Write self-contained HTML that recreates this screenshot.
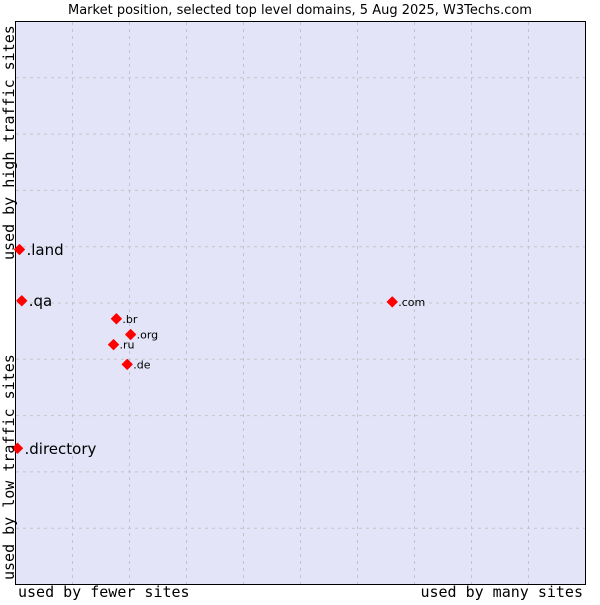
<!DOCTYPE html>
<html><head><meta charset="utf-8"><style>
body{margin:0;background:#fff;width:600px;height:600px;overflow:hidden}
svg text{font-family:"DejaVu Sans","Liberation Sans",sans-serif}
.mono{font-family:"DejaVu Sans Mono","Liberation Mono",monospace}
</style></head><body>
<svg id="chart" width="600" height="600">
<text x="300" y="14" text-anchor="middle" font-size="13">Market position, selected top level domains, 5 Aug 2025, W3Techs.com</text>
<rect x="15.5" y="21.5" width="570" height="563" fill="#e3e4f8" stroke="#000" stroke-width="1"/>
<g id="grid"></g>
<g id="points"></g>
<text class="mono" x="18" y="597" font-size="15">used by fewer sites</text>
<text class="mono" x="583" y="597" font-size="15" text-anchor="end">used by many sites</text>
<text class="mono" transform="translate(14,580) rotate(-90)" font-size="15">used by low traffic sites</text>
<text class="mono" transform="translate(14,260) rotate(-90)" font-size="15">used by high traffic sites</text>
</svg>
<script>
const domains=[".land",".qa",".directory",".com",".br",".org",".ru",".de"];
const xValues=[0.7,1.1,0.35,66.1,17.7,20.2,17.2,19.6];
const yValues=[59.5,50.4,24.2,50.2,47.2,44.4,42.6,39.1];
const bigLabel=[true,true,true,false,false,false,false,false];
const X0=15.5,W=570,Y0=584.5,H=563;
const sx=v=>X0+v/100*W, sy=v=>Y0-v/100*H;
const NS="http://www.w3.org/2000/svg";
const grid=document.getElementById('grid');
for(let i=1;i<10;i++){
 const v=document.createElementNS(NS,'line');
 v.setAttribute('x1',sx(i*10));v.setAttribute('x2',sx(i*10));v.setAttribute('y1',22);v.setAttribute('y2',584);
 v.setAttribute('stroke','#c4c4c8');v.setAttribute('stroke-dasharray','3,4');
 
 
 grid.appendChild(v);
 const h=document.createElementNS(NS,'line');
 h.setAttribute('y1',sy(i*10));h.setAttribute('y2',sy(i*10));h.setAttribute('x1',16);h.setAttribute('x2',585);
 h.setAttribute('stroke','#c4c4c8');h.setAttribute('stroke-dasharray','3,4');
 
 
 grid.appendChild(h);
}
const pts=document.getElementById('points');
domains.forEach((d,i)=>{
 const x=sx(xValues[i]),y=sy(yValues[i]);
 const m=document.createElementNS(NS,'polygon');
 m.setAttribute('points',`${x},${y-5} ${x+5},${y} ${x},${y+5} ${x-5},${y}`);
 m.setAttribute('fill','#f00');
 m.setAttribute('stroke','#f00');
 m.setAttribute('stroke-width','1');
 m.setAttribute('stroke-linejoin','round');
 
 
 pts.appendChild(m);
 const t=document.createElementNS(NS,'text');
 t.setAttribute('x',x+(bigLabel[i]?7:6));t.setAttribute('y',y+(bigLabel[i]?5.5:4));
 t.setAttribute('font-size',bigLabel[i]?15:11);
 t.textContent=d;
 
 
 pts.appendChild(t);
});
</script>
</body></html>
